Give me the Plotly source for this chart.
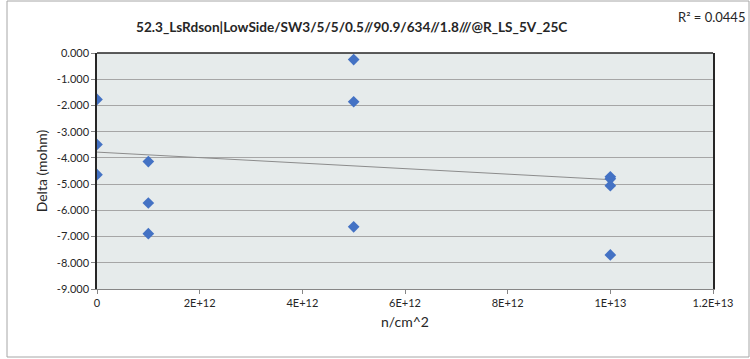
import plotly.graph_objects as go

# Data
fluence = [0, 0, 0, 1e12, 1e12, 1e12, 5e12, 5e12, 5e12, 1e13, 1e13, 1e13, 1e13]
delta = [-1.77, -3.49, -4.64, -4.14, -5.72, -6.89, -0.25, -1.86, -6.63, -4.72, -4.80, -5.06, -7.70]

# Linear trendline (Excel trendline)
trend_intercept = -3.78
trend_slope = -1.05e-13

x_tick_vals = [0, 2e12, 4e12, 6e12, 8e12, 1e13, 1.2e13]
x_tick_text = ["0", "2E+12", "4E+12", "6E+12", "8E+12", "1E+13", "1.2E+13"]
y_tick_vals = [0, -1, -2, -3, -4, -5, -6, -7, -8, -9]
y_tick_text = ["0.000", "-1.000", "-2.000", "-3.000", "-4.000", "-5.000", "-6.000", "-7.000", "-8.000", "-9.000"]

title_text = "52.3_LsRdson|LowSide/SW3/5/5/0.5//90.9/634//1.8///@R_LS_5V_25C"
r2_text = "R² = 0.0445"

trend_x = [min(fluence), max(fluence)]
trend_y = [trend_intercept + trend_slope * v for v in trend_x]

FONT = "Lato"
TXT = "#262626"

fig = go.Figure()
fig.add_trace(go.Scatter(x=trend_x, y=trend_y, mode="lines",
                         line=dict(color="#8c8c8c", width=1), hoverinfo="skip"))
fig.add_trace(go.Scatter(x=fluence, y=delta, mode="markers",
                         marker=dict(symbol="diamond", size=9, color="#4472C4",
                                     line=dict(width=0))))

fig.update_layout(
    width=750, height=359,
    margin=dict(l=97, r=37, t=53, b=70),
    paper_bgcolor="white",
    plot_bgcolor="#E6EBEB",
    showlegend=False,
    font=dict(family=FONT, size=11, color=TXT),
)
fig.update_xaxes(
    range=[0, 1.2e13], tickvals=x_tick_vals, ticktext=x_tick_text,
    showgrid=False, zeroline=False,
    showline=True, linecolor="#868686", linewidth=1,
    ticks="outside", ticklen=4, tickcolor="#868686",
    tickfont=dict(family=FONT, size=11, color=TXT),
    title=dict(text="n/cm^2", font=dict(family=FONT, size=14, color=TXT), standoff=8),
)
fig.update_yaxes(
    range=[-9, 0], tickvals=y_tick_vals, ticktext=y_tick_text,
    showgrid=True, gridcolor="#A6A6A6", gridwidth=1, zeroline=False,
    showline=True, linecolor="#262626", linewidth=1.5, mirror=True,
    ticks="outside", ticklen=4, tickcolor="#868686",
    tickfont=dict(family=FONT, size=11, color=TXT),
    title=dict(text="Delta (mohm)", font=dict(family=FONT, size=14, color=TXT), standoff=6),
)

# top border of plot area
fig.add_shape(type="line", xref="paper", yref="paper", x0=0, x1=1, y0=1, y1=1,
              line=dict(color="#262626", width=1.5))
# outer chart border
pw, ph = 616, 236
fig.add_shape(type="rect", xref="paper", yref="paper",
              x0=(7 - 97) / pw, x1=(749 - 97) / pw,
              y0=(289 - 357) / ph, y1=(289 - 1) / ph,
              line=dict(color="#A6A6A6", width=1), layer="below")

fig.add_annotation(text="<b>" + title_text + "</b>", xref="paper", yref="paper",
                   x=(351 - 97) / pw, y=(289 - 27) / ph, showarrow=False,
                   xanchor="center", yanchor="middle",
                   font=dict(family=FONT, size=13.6, color=TXT))
fig.add_annotation(text=r2_text, xref="paper", yref="paper",
                   x=(747 - 97) / pw, y=(289 - 17) / ph, showarrow=False,
                   xanchor="right", yanchor="middle",
                   font=dict(family=FONT, size=13, color=TXT))

fig.write_html("out.html", config={"displayModeBar": False},
               post_script="document.body.style.margin='0';")
